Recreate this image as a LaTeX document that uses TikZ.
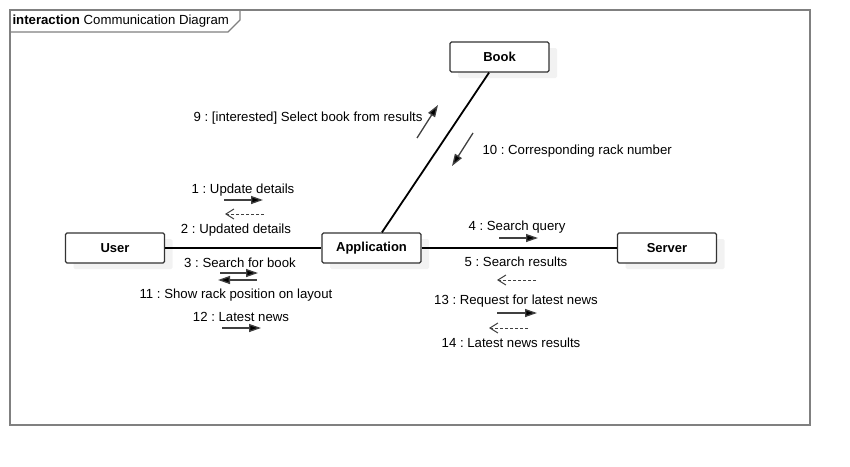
\documentclass[tikz,border=0pt]{standalone}
\usepackage{fontspec}
\setmainfont{Liberation Sans}
\usepackage{xcolor}
\usetikzlibrary{arrows.meta, shadows}

\definecolor{framegrey}{HTML}{808080}
\definecolor{msggrey}{HTML}{404040}
\frenchspacing

\begin{document}
\begin{tikzpicture}[x=1pt, y=-1pt,
    every node/.style={font=\fontsize{13.2}{15}\selectfont},
    lifebox/.style={draw=black!80, line width=1.2pt, fill=white, rounded corners=1.5pt,
        minimum width=99pt, minimum height=30pt, font=\fontsize{13}{15}\selectfont\bfseries,
        drop shadow={shadow xshift=8pt, shadow yshift=-6pt, fill=black!5, opacity=1}},
    link/.style={line width=1.8pt, black},
    callmsg/.style={line width=1.3pt, msggrey, -{Triangle[length=12pt, width=8pt, fill=black]}},
    replymsg/.style={line width=1pt, msggrey, dash pattern=on 3pt off 2pt,
        -{Straight Barb[length=8pt, width=10pt]}}]

    \useasboundingbox (0, 0) rectangle (850, 466);

    % Frame and header tab
    \draw[framegrey, line width=1.8pt] (10, 10) rectangle (810, 425);
    \draw[framegrey, line width=1.2pt] (10, 32) -- (228, 32) -- (240, 20) -- (240, 10);
    \node[anchor=west] (header) at (9, 21) {\textbf{interaction} Communication Diagram};

    % Objects
    \node[lifebox] (user)   at (115, 248)   {User};
    \node[lifebox] (app)    at (371.5, 248) {Application};
    \node[lifebox] (server) at (667, 248)   {Server};
    \node[lifebox] (book)   at (499.5, 57)  {Book};

    % Links
    \draw[link] (user) -- (app);
    \draw[link] (app) -- (server);
    \draw[link] (app) -- (book);

    % Coordinates for the message arrows
    \coordinate (m1s)  at (224, 200);   % 1
    \coordinate (m1e)  at (263, 200);
    \coordinate (m2s)  at (264, 214);   % 2
    \coordinate (m2e)  at (225, 214);
    \coordinate (m3s)  at (220, 273);   % 3
    \coordinate (m3e)  at (258, 273);
    \coordinate (m11s) at (257, 280);   % 11
    \coordinate (m11e) at (218, 280);
    \coordinate (m12s) at (222, 328);   % 12
    \coordinate (m12e) at (261, 328);
    \coordinate (m4s)  at (499, 238);   % 4
    \coordinate (m4e)  at (538, 238);
    \coordinate (m5s)  at (536, 280);   % 5
    \coordinate (m5e)  at (497, 280);
    \coordinate (m13s) at (497, 313);   % 13
    \coordinate (m13e) at (537, 313);
    \coordinate (m14s) at (528, 328);   % 14
    \coordinate (m14e) at (489, 328);
    \coordinate (m9s)  at (417, 138);   % 9
    \coordinate (m9e)  at (438, 105);
    \coordinate (m10s) at (473, 133);   % 10
    \coordinate (m10e) at (452, 166);

    % Draw the message arrows
    \draw[callmsg]  (m1s) -- (m1e);
    \draw[replymsg] (m2s) -- (m2e);
    \draw[callmsg]  (m3s) -- (m3e);
    \draw[callmsg]  (m11s) -- (m11e);
    \draw[callmsg]  (m12s) -- (m12e);
    \draw[callmsg]  (m4s) -- (m4e);
    \draw[replymsg] (m5s) -- (m5e);
    \draw[callmsg]  (m13s) -- (m13e);
    \draw[replymsg] (m14s) -- (m14e);
    \draw[callmsg]  (m9s) -- (m9e);
    \draw[callmsg]  (m10s) -- (m10e);

    % Message labels
    \node (lbl1)  at (243, 190) {1 : Update details};
    \node (lbl2)  at (236, 230) {2 : Updated details};
    \node (lbl3)  at (240, 263) {3 : Search for book};
    \node (lbl11) at (236, 295) {11 : Show rack position on layout};
    \node (lbl12) at (241, 317) {12 : Latest news};
    \node (lbl4)  at (517, 227) {4 : Search query};
    \node (lbl5)  at (516, 262) {5 : Search results};
    \node (lbl13) at (516, 301) {13 : Request for latest news};
    \node (lbl14) at (511, 343) {14 : Latest news results};
    \node[anchor=east] (lbl9)  at (426, 118) {9 : [interested] Select book from results};
    \node[anchor=west] (lbl10) at (479, 151) {10 : Corresponding rack number};

\end{tikzpicture}
\end{document}
